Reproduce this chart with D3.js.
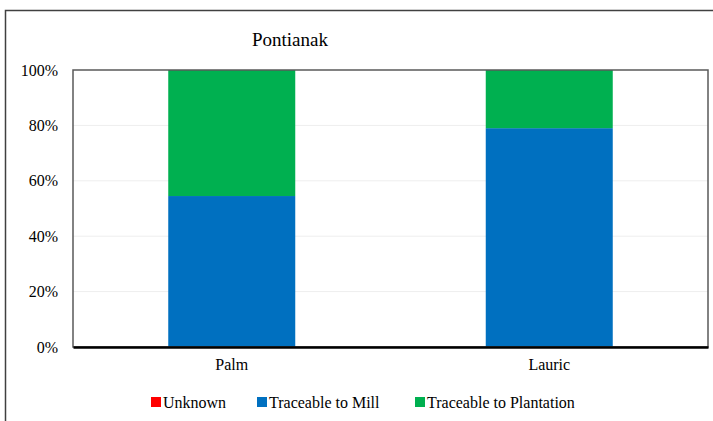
<!DOCTYPE html>
<html>
<head>
<meta charset="utf-8">
<script src="https://cdn.jsdelivr.net/npm/d3@7"></script>
<style>
  body { margin: 0; background: #fff; }
</style>
</head>
<body>
<div id="chart"></div>
<script>
const categories = ["Palm", "Lauric"];
const seriesNames = ["Unknown", "Traceable to Mill", "Traceable to Plantation"];
const unknown = [0, 0];
const mill = [54.5, 79];
const plantation = [45.5, 21];
const yTicks = [0, 20, 40, 60, 80, 100];
const colors = ["#ff0000", "#0070c0", "#00b050"];

const width = 713, height = 421;
const margin = {top: 70, right: 5, bottom: 74, left: 73};
const serif = "Liberation Serif, Times New Roman, serif";

const svg = d3.select("#chart").append("svg")
  .attr("width", width)
  .attr("height", height)
  .attr("font-family", serif);

// outer chart frame (clipped by the window on right/bottom)
svg.append("rect")
  .attr("x", 5.5).attr("y", 10.5)
  .attr("width", 720).attr("height", 420)
  .attr("fill", "none")
  .attr("stroke", "#404040")
  .attr("stroke-width", 1.5);

const data = categories.map((c, i) => ({
  cat: c, "Unknown": unknown[i], "Traceable to Mill": mill[i], "Traceable to Plantation": plantation[i]
}));

const series = d3.stack().keys(seriesNames)(data);

const x = d3.scaleBand()
  .domain(categories)
  .range([margin.left, width - margin.right]);

const y = d3.scaleLinear()
  .domain([0, 100])
  .range([height - margin.bottom, margin.top]);

// gridlines
svg.append("g")
  .selectAll("line")
  .data(yTicks.filter(d => d > 0 && d < 100))
  .join("line")
    .attr("x1", margin.left).attr("x2", width - margin.right)
    .attr("y1", d => y(d)).attr("y2", d => y(d))
    .attr("stroke", "#eeeeee")
    .attr("stroke-width", 1);

// bars
const barW = x.bandwidth() * 0.4;
svg.append("g")
  .selectAll("g")
  .data(series)
  .join("g")
    .attr("fill", (d, i) => colors[i])
  .selectAll("rect")
  .data(d => d)
  .join("rect")
    .attr("x", d => x(d.data.cat) + (x.bandwidth() - barW) / 2)
    .attr("y", d => y(d[1]))
    .attr("width", barW)
    .attr("height", d => y(d[0]) - y(d[1]));

// plot frame
svg.append("rect")
  .attr("x", margin.left).attr("y", margin.top)
  .attr("width", width - margin.left - margin.right)
  .attr("height", height - margin.top - margin.bottom)
  .attr("fill", "none")
  .attr("stroke", "#595959")
  .attr("stroke-width", 1.5);

// y axis
const yAxis = svg.append("g")
  .attr("transform", `translate(${margin.left},0)`)
  .call(d3.axisLeft(y).tickValues(yTicks).tickFormat(d => d + "%").tickSize(0).tickPadding(15))
  .attr("font-family", serif)
  .attr("font-size", 16);
yAxis.select(".domain").remove();
yAxis.selectAll("text").attr("fill", "#000");

// x axis
const xAxis = svg.append("g")
  .attr("transform", `translate(0,${height - margin.bottom})`)
  .call(d3.axisBottom(x).tickSize(0).tickPadding(12))
  .attr("font-family", serif)
  .attr("font-size", 16);
xAxis.select(".domain")
  .attr("stroke", "#000")
  .attr("stroke-width", 2.5);
xAxis.selectAll("text").attr("fill", "#000");

// title
svg.append("text")
  .attr("x", 290).attr("y", 46)
  .attr("text-anchor", "middle")
  .attr("font-size", 19)
  .text("Pontianak");

// legend
const legendX = [151, 257, 415];
const legend = svg.append("g")
  .attr("font-size", 16)
  .selectAll("g")
  .data(seriesNames)
  .join("g")
    .attr("transform", (d, i) => `translate(${legendX[i]},402)`);
legend.append("rect")
  .attr("x", 0).attr("y", -5)
  .attr("width", 10).attr("height", 10)
  .attr("fill", (d, i) => colors[i]);
legend.append("text")
  .attr("x", 12).attr("y", 0)
  .attr("dy", "0.35em")
  .text(d => d);
</script>
</body>
</html>
